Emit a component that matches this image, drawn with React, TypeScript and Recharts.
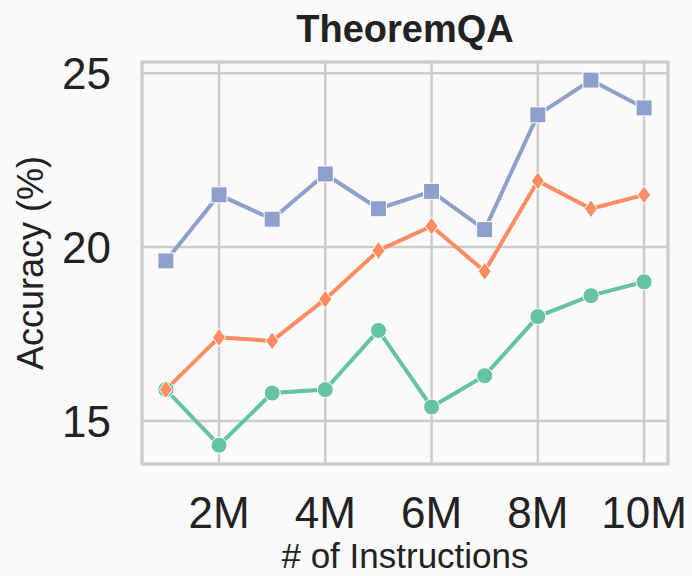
import React from 'react';
import { LineChart, Line, XAxis, YAxis, CartesianGrid, ReferenceArea, Label } from 'recharts';

// # of instructions (millions)
const instructions = [1, 2, 3, 4, 5, 6, 7, 8, 9, 10];
const blueValues = [19.6, 21.5, 20.8, 22.1, 21.1, 21.6, 20.5, 23.8, 24.8, 24.0];
const orangeValues = [15.9, 17.4, 17.3, 18.5, 19.9, 20.6, 19.3, 21.9, 21.1, 21.5];
const greenValues = [15.9, 14.3, 15.8, 15.9, 17.6, 15.4, 16.3, 18.0, 18.6, 19.0];
const xTicks = [2, 4, 6, 8, 10];
const yTicks = [15, 20, 25];

const X_DOMAIN: [number, number] = [0.55, 10.45];
const Y_DOMAIN: [number, number] = [13.76, 25.32];

const data = instructions.map((n, i) => ({
  n,
  blue: blueValues[i],
  orange: orangeValues[i],
  green: greenValues[i],
}));

const FONT = '"Liberation Sans", Arial, Helvetica, sans-serif';
const TEXT = '#222222';
const BLUE = '#8da0cb';
const ORANGE = '#fc8d62';
const GREEN = '#66c2a5';
const GRID = '#cccccc';

const XTick = (props: any) => {
  const { x, y, payload } = props;
  return (
    <text x={x} y={y + 62} textAnchor="middle" fontSize={44} fontFamily={FONT} fill={TEXT}>
      {`${payload.value}M`}
    </text>
  );
};

const YTick = (props: any) => {
  const { x, y, payload } = props;
  return (
    <text x={x - 29} y={y + 16} textAnchor="end" fontSize={44} fontFamily={FONT} fill={TEXT}>
      {payload.value}
    </text>
  );
};

const squareDot = (props: any) => {
  const { cx, cy, index } = props;
  if (cx == null || cy == null) return <g key={`s${index}`} />;
  return (
    <rect key={`s${index}`} x={cx - 8} y={cy - 8} width={16} height={16} fill={BLUE} stroke="#ffffff" strokeWidth={1} />
  );
};

const diamondDot = (props: any) => {
  const { cx, cy, index } = props;
  if (cx == null || cy == null) return <g key={`d${index}`} />;
  return (
    <path
      key={`d${index}`}
      d={`M${cx},${cy - 9} L${cx + 6.5},${cy} L${cx},${cy + 9} L${cx - 6.5},${cy} Z`}
      fill={ORANGE}
      stroke="#ffffff"
      strokeWidth={1}
    />
  );
};

const circleDot = (props: any) => {
  const { cx, cy, index } = props;
  if (cx == null || cy == null) return <g key={`c${index}`} />;
  return <circle key={`c${index}`} cx={cx} cy={cy} r={8} fill={GREEN} stroke="#ffffff" strokeWidth={1} />;
};

export default function App() {
  return (
    <div style={{ position: 'absolute', left: 0, top: 0, width: 692, height: 576, background: '#fafafa' }}>
      <svg width={692} height={60} style={{ position: 'absolute', left: 0, top: 0 }}>
        <text x={405} y={42} textAnchor="middle" fontSize={38} fontWeight="bold" fontFamily={FONT} fill={TEXT}>
          TheoremQA
        </text>
      </svg>
      <div style={{ position: 'absolute', left: 0, top: 0 }}>
        <LineChart width={692} height={576} data={data} margin={{ top: 62, right: 24, bottom: 0, left: 0 }}>
          <CartesianGrid stroke={GRID} strokeWidth={2.5} horizontal vertical />
          <XAxis
            dataKey="n"
            type="number"
            domain={X_DOMAIN}
            ticks={xTicks}
            interval={0}
            allowDataOverflow
            axisLine={false}
            tickLine={false}
            tickSize={0}
            tick={XTick}
            height={112}
          >
            <Label
              content={(p: any) => {
                const vb = p.viewBox || { x: 142, y: 464, width: 526, height: 112 };
                return (
                  <text x={vb.x + vb.width / 2} y={vb.y + 104} textAnchor="middle" fontSize={35} fontFamily={FONT} fill={TEXT}>
                    # of Instructions
                  </text>
                );
              }}
            />
          </XAxis>
          <YAxis
            type="number"
            domain={Y_DOMAIN}
            ticks={yTicks}
            interval={0}
            allowDataOverflow
            axisLine={false}
            tickLine={false}
            tickSize={0}
            tick={YTick}
            width={142}
          >
            <Label
              content={(p: any) => {
                const vb = p.viewBox || { x: 0, y: 62, width: 142, height: 402 };
                const lx = vb.x + 43;
                const ly = vb.y + vb.height / 2;
                return (
                  <text
                    x={lx}
                    y={ly}
                    transform={`rotate(-90, ${lx}, ${ly})`}
                    textAnchor="middle"
                    fontSize={36}
                    fontFamily={FONT}
                    fill={TEXT}
                  >
                    Accuracy (%)
                  </text>
                );
              }}
            />
          </YAxis>
          <ReferenceArea
            x1={X_DOMAIN[0]}
            x2={X_DOMAIN[1]}
            y1={Y_DOMAIN[0]}
            y2={Y_DOMAIN[1]}
            fill="none"
            fillOpacity={0}
            stroke={GRID}
            strokeWidth={3}
            strokeOpacity={1}
          />
          <Line type="linear" dataKey="blue" stroke={BLUE} strokeWidth={4} dot={squareDot} activeDot={false} isAnimationActive={false} />
          <Line type="linear" dataKey="green" stroke={GREEN} strokeWidth={4} dot={circleDot} activeDot={false} isAnimationActive={false} />
          <Line type="linear" dataKey="orange" stroke={ORANGE} strokeWidth={4} dot={diamondDot} activeDot={false} isAnimationActive={false} />
        </LineChart>
      </div>
    </div>
  );
}
